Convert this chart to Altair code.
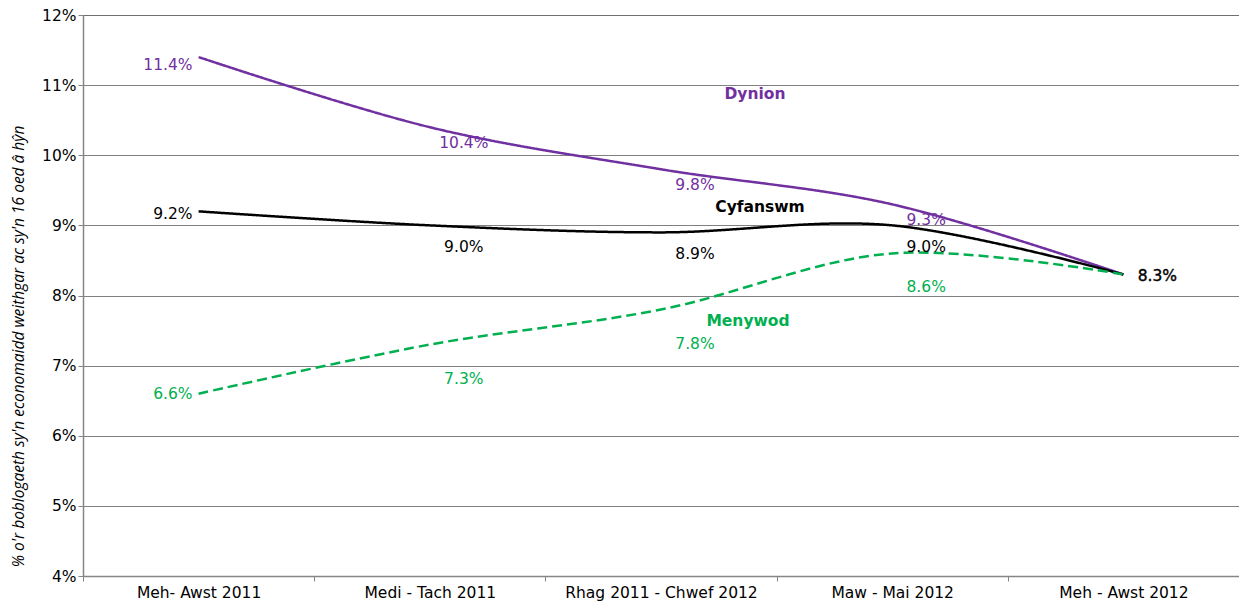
import altair as alt
import pandas as pd

categories = ["Meh- Awst 2011", "Medi - Tach 2011", "Rhag 2011 - Chwef 2012",
              "Maw - Mai 2012", "Meh - Awst 2012"]
dynion = [11.4, 10.4, 9.8, 9.3, 8.3]
cyfanswm = [9.2, 9.0, 8.9, 9.0, 8.3]
menywod = [6.6, 7.3, 7.8, 8.6, 8.3]
series_names = ["Dynion", "Cyfanswm", "Menywod"]
series_colors = ["#7030A0", "#000000", "#00B050"]

rows = []
for name, vals in zip(series_names, [dynion, cyfanswm, menywod]):
    for i, (c, v) in enumerate(zip(categories, vals)):
        rows.append({"series": name, "cat": c, "value": v, "idx": i,
                     "label": f"{v:.1f}%"})
df = pd.DataFrame(rows)

FONT = "DejaVu Sans"
FS = 15.5

x_enc = alt.X("cat:N", sort=categories, bandPosition=0.5,
              scale=alt.Scale(type="band", paddingInner=0, paddingOuter=0),
              axis=alt.Axis(title=None, labelAngle=0, tickBand="extent", labelLimit=0,
                            grid=False, domainColor="#868686", domainWidth=1.5,
                            tickColor="#868686", tickSize=5, labelPadding=4,
                            labelFont=FONT, labelFontSize=FS, labelColor="#000"))
y_enc = alt.Y("value:Q", scale=alt.Scale(domain=[4, 12], nice=False, zero=False),
              axis=alt.Axis(title="% o'r boblogaeth sy'n economaidd weithgar ac sy'n 16 oed â hŷn",
                            values=list(range(4, 13)), labelExpr="datum.value + '%'",
                            grid=True, gridColor="#000", gridDash=[1, 1], gridWidth=1,
                            domainColor="#868686", domainWidth=1.5,
                            tickColor="#868686", tickSize=5, labelPadding=2,
                            labelFont=FONT, labelFontSize=FS, labelColor="#000",
                            titleFont="Open Sans", titleFontStyle="italic",
                            titleFontWeight="normal", titleFontSize=15.5,
                            titleColor="#000", titleX=-65, titleY=331,
                            titleBaseline="middle", titleAlign="center", titleAngle=270))

base = alt.Chart(df)

lines = base.mark_line(interpolate="cardinal", strokeWidth=2.5).encode(
    x=x_enc, y=y_enc,
    color=alt.Color("series:N", scale=alt.Scale(domain=series_names, range=series_colors), legend=None),
    strokeDash=alt.StrokeDash("series:N", scale=alt.Scale(domain=series_names,
                              range=[[1, 0], [1, 0], [10, 5]]), legend=None),
    detail="series:N",
)

layers = [lines]
mid_dy = {"Dynion": 16, "Cyfanswm": 22, "Menywod": 34}
first_dy = {"Dynion": 8, "Cyfanswm": 3, "Menywod": 0}
for name, col in zip(series_names, series_colors):
    sub = base.transform_filter(alt.datum.series == name)
    layers.append(sub.transform_filter(alt.datum.idx == 0).mark_text(
        align="right", baseline="middle", dx=-6, dy=first_dy[name],
        font=FONT, fontSize=FS, color=col).encode(x=x_enc, y=y_enc, text="label:N"))
    layers.append(sub.transform_filter((alt.datum.idx > 0) & (alt.datum.idx < 4)).mark_text(
        align="center", baseline="middle", dx=34, dy=mid_dy[name],
        font=FONT, fontSize=FS, color=col).encode(x=x_enc, y=y_enc, text="label:N"))

layers.append(base.transform_filter((alt.datum.series == "Cyfanswm") & (alt.datum.idx == 4)).mark_text(
    align="center", baseline="middle", dx=34, dy=2,
    font=FONT, fontSize=FS, color="#000", stroke="#000", strokeWidth=0.4).encode(
    x=x_enc, y=y_enc, text="label:N"))

ann = [("Dynion", "#7030A0", 672, 79), ("Cyfanswm", "#000000", 677, 192), ("Menywod", "#00B050", 665, 306)]
for name, col, px, py in ann:
    layers.append(alt.Chart(pd.DataFrame({"t": [name]})).mark_text(
        font=FONT, fontSize=FS, fontWeight="bold", color=col, align="center", baseline="middle"
    ).encode(x=alt.value(px), y=alt.value(py), text="t:N"))

chart = alt.layer(*layers).properties(
    width=1156, height=561,
    autosize=alt.AutoSizeParams(type="none"),
    padding={"left": 75, "top": 7, "right": 0, "bottom": 26},
).configure_view(stroke=None).configure(background="white")

chart.save("out.html", embed_options={"renderer": "svg", "actions": False})
